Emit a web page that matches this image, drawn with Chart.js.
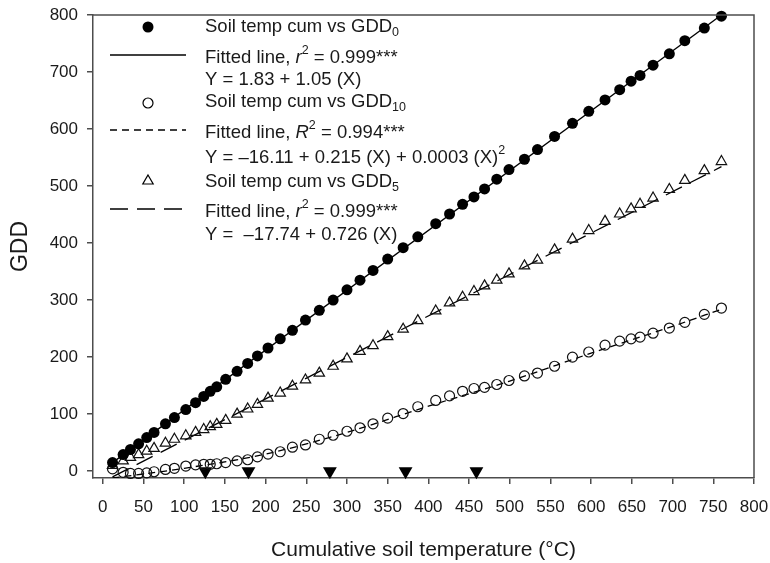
<!DOCTYPE html>
<html>
<head>
<meta charset="utf-8">
<script src="https://cdn.jsdelivr.net/npm/chart.js@4.4.0/dist/chart.umd.min.js"></script>
<style>
  body { margin: 0; background: #fff; }
  #wrap { width: 770px; height: 563px; }
</style>
</head>
<body>
<div id="wrap"><canvas id="gddChart"></canvas></div>
<script>
// cumulative soil temperature (x) shared by the three series
const soilTemp = [12, 25, 34, 44, 54, 63, 77, 88, 102, 114, 124, 132, 140, 151, 165, 178, 190, 203, 218, 233,
  249, 266, 283, 300, 316, 332, 350, 369, 387, 409, 426, 442, 456, 469, 484, 499, 518, 534, 555, 577,
  597, 617, 635, 649, 660, 676, 696, 715, 739, 760];
const gdd0 = [15, 29, 38, 48, 59, 68, 83, 94, 108, 120, 131, 140, 148, 161, 175, 189, 202, 216, 232, 247,
  265, 282, 300, 318, 335, 352, 372, 392, 411, 434, 451, 468, 481, 495, 512, 529, 547, 564, 587, 610,
  631, 651, 669, 684, 694, 712, 732, 755, 777, 798];
const gdd10 = [4, -2, -4, -4, -3, -1, 3, 5, 9, 11, 12, 12, 13, 15, 18, 20, 25, 30, 34, 42,
  46, 56, 63, 70, 76, 83, 93, 101, 113, 124, 132, 140, 145, 147, 152, 159, 167, 172, 184, 200,
  209, 221, 228, 232, 235, 242, 251, 261, 275, 286];
const gdd5 = [10, 18, 24, 29, 35, 40, 49, 56, 62, 68, 73, 78, 82, 89, 100, 109, 117, 128, 137, 149,
  160, 172, 184, 197, 210, 220, 236, 249, 264, 281, 295, 305, 315, 325, 335, 346, 360, 370, 388, 407,
  422, 438, 451, 460, 468, 479, 494, 510, 527, 543];

// fitted lines
const fit0X = [12, 760];
const fit0Y = [15, 800];
const fit10X = [12, 100, 200, 300, 400, 500, 600, 700, 760];
const fit10Y = [-12, 5, 30, 68, 114, 158, 207, 254, 284];
const fit5X = [12, 760];
const fit5Y = [-10, 534];

// black markers on the zero line
const markX = [126, 179, 279, 372, 459];
const markY = [0, 0, 0, 0, 0];

const xTicks = [0, 50, 100, 150, 200, 250, 300, 350, 400, 450, 500, 550, 600, 650, 700, 750, 800];
const yTicks = [0, 100, 200, 300, 400, 500, 600, 700, 800];

const FONT = '"Liberation Sans", Arial, Helvetica, sans-serif';
const AXIS = '#4d4d4d';
const INK = '#1a1a1a';

function pts(xs, ys) {
  return xs.map((x, i) => ({ x: x, y: ys[i] }));
}

// legend rows: text parts are [text, kind]
const legendRows = [
  { y: 27, mark: 'dot', text: [['Soil temp cum vs GDD'], ['0', 'sub']] },
  { y: 58, markY: 55, mark: 'solid', text: [['Fitted line, '], ['r', 'it'], ['2', 'sup'], [' = 0.999***']] },
  { y: 80, text: [['Y = 1.83 + 1.05 (X)']] },
  { y: 102, markY: 103, mark: 'ring', text: [['Soil temp cum vs GDD'], ['10', 'sub']] },
  { y: 133, markY: 130, mark: 'dash', text: [['Fitted line, '], ['R', 'it'], ['2', 'sup'], [' = 0.994***']] },
  { y: 158, text: [['Y = \u201316.11 + 0.215 (X) + 0.0003 (X)'], ['2', 'sup']] },
  { y: 182, markY: 181, mark: 'tri', text: [['Soil temp cum vs GDD'], ['5', 'sub']] },
  { y: 212, markY: 209, mark: 'longdash', text: [['Fitted line, '], ['r', 'it'], ['2', 'sup'], [' = 0.999***']] },
  { y: 235, text: [['Y =  \u201317.74 + 0.726 (X)']] }
];

function drawRich(ctx, x, y, parts) {
  parts.forEach(function (p) {
    let size = 18.5, dy = 0, style = '';
    if (p[1] === 'sub') { size = 12.5; dy = 6; }
    if (p[1] === 'sup') { size = 12.5; dy = -7; }
    if (p[1] === 'it') style = 'italic ';
    ctx.font = style + size + 'px ' + FONT;
    ctx.fillText(p[0], x, y + dy);
    x += ctx.measureText(p[0]).width;
  });
}

const legendPlugin = {
  id: 'gddLegend',
  afterDraw(chart) {
    const ctx = chart.ctx;
    const cx = 148, lx0 = 110, lx1 = 186, tx = 205;
    ctx.save();
    ctx.fillStyle = INK;
    ctx.strokeStyle = '#000';
    ctx.textBaseline = 'middle';
    ctx.textAlign = 'left';
    legendRows.forEach(function (r) {
      const my = r.markY !== undefined ? r.markY : r.y;
      ctx.setLineDash([]);
      if (r.mark === 'dot') {
        ctx.beginPath(); ctx.arc(cx, my, 5.5, 0, Math.PI * 2); ctx.fillStyle = '#000'; ctx.fill();
      } else if (r.mark === 'ring') {
        ctx.beginPath(); ctx.arc(cx, my, 5, 0, Math.PI * 2); ctx.lineWidth = 1.2; ctx.stroke();
      } else if (r.mark === 'tri') {
        const rr = 6;
        ctx.beginPath();
        ctx.moveTo(cx, my - rr);
        ctx.lineTo(cx + rr * 0.866, my + rr / 2);
        ctx.lineTo(cx - rr * 0.866, my + rr / 2);
        ctx.closePath(); ctx.lineWidth = 1.2; ctx.stroke();
      } else if (r.mark) {
        if (r.mark === 'dash') ctx.setLineDash([7, 5]);
        if (r.mark === 'longdash') ctx.setLineDash([18, 9]);
        ctx.beginPath(); ctx.moveTo(lx0, my); ctx.lineTo(lx1, my); ctx.lineWidth = 1.3; ctx.stroke();
      }
      ctx.setLineDash([]);
      ctx.fillStyle = INK;
      drawRich(ctx, tx, r.y, r.text);
    });
    ctx.restore();
  }
};

// top and right sides of the frame
const framePlugin = {
  id: 'frame',
  afterDraw(chart) {
    const a = chart.chartArea, ctx = chart.ctx;
    ctx.save();
    ctx.strokeStyle = AXIS;
    ctx.lineWidth = 1.5;
    ctx.beginPath();
    ctx.moveTo(a.left, a.top);
    ctx.lineTo(a.right, a.top);
    ctx.lineTo(a.right, a.bottom);
    ctx.stroke();
    ctx.restore();
  }
};

const ctx = document.getElementById('gddChart').getContext('2d');
new Chart(ctx, {
  type: 'scatter',
  data: {
    datasets: [
      {
        label: 'Soil temp cum vs GDD0',
        data: pts(soilTemp, gdd0),
        pointStyle: 'circle', pointRadius: 5.5,
        pointBackgroundColor: '#000', pointBorderColor: '#000', pointBorderWidth: 0,
        clip: false
      },
      {
        label: 'Soil temp cum vs GDD10',
        data: pts(soilTemp, gdd10),
        pointStyle: 'circle', pointRadius: 5,
        pointBackgroundColor: 'rgba(0,0,0,0)', pointBorderColor: '#111', pointBorderWidth: 1.2,
        clip: false
      },
      {
        label: 'Soil temp cum vs GDD5',
        data: pts(soilTemp, gdd5),
        pointStyle: 'triangle', pointRadius: 6,
        pointBackgroundColor: 'rgba(0,0,0,0)', pointBorderColor: '#111', pointBorderWidth: 1.2,
        clip: false
      },
      {
        label: 'markers',
        data: pts(markX, markY),
        pointStyle: 'triangle', pointRadius: 8, pointRotation: 180,
        pointBackgroundColor: '#000', pointBorderColor: '#000', pointBorderWidth: 0,
        clip: false
      },
      {
        label: 'Fitted GDD0',
        data: pts(fit0X, fit0Y),
        showLine: true, pointRadius: 0, borderColor: '#000', borderWidth: 1.3
      },
      {
        label: 'Fitted GDD10',
        data: pts(fit10X, fit10Y),
        showLine: true, pointRadius: 0, borderColor: '#000', borderWidth: 1.3,
        borderDash: [7, 5], tension: 0.4, cubicInterpolationMode: 'monotone'
      },
      {
        label: 'Fitted GDD5',
        data: pts(fit5X, fit5Y),
        showLine: true, pointRadius: 0, borderColor: '#000', borderWidth: 1.3,
        borderDash: [18, 9]
      }
    ]
  },
  options: {
    responsive: true,
    maintainAspectRatio: false,
    animation: false,
    events: [],
    layout: { padding: { top: 15, right: 16, left: 0, bottom: 0 } },
    plugins: {
      legend: { display: false },
      tooltip: { enabled: false }
    },
    scales: {
      x: {
        type: 'linear',
        min: -12,
        max: 800,
        afterBuildTicks: function (s) { s.ticks = xTicks.map(v => ({ value: v })); },
        afterFit: function (s) { s.height = 85; s.paddingLeft = 0; s.paddingRight = 0; },
        ticks: { font: { size: 17, family: FONT }, color: INK, padding: 13, maxRotation: 0, autoSkip: false },
        grid: { drawOnChartArea: false, drawTicks: true, tickLength: 6, color: AXIS, lineWidth: 1.5 },
        border: { display: true, color: AXIS, width: 1.5 },
        title: {
          display: true,
          text: 'Cumulative soil temperature (\u00B0C)',
          font: { size: 21, family: FONT },
          color: INK,
          padding: { top: 0, bottom: 0 }
        }
      },
      y: {
        type: 'linear',
        min: -12,
        max: 800,
        afterBuildTicks: function (s) { s.ticks = yTicks.map(v => ({ value: v })); },
        afterFit: function (s) { s.width = 93; s.paddingTop = 0; s.paddingBottom = 0; },
        ticks: { font: { size: 17, family: FONT }, color: INK, padding: 9, autoSkip: false },
        grid: { drawOnChartArea: false, drawTicks: true, tickLength: 6, color: AXIS, lineWidth: 1.5 },
        border: { display: true, color: AXIS, width: 1.5 },
        title: {
          display: true,
          text: 'GDD',
          font: { size: 23, family: FONT },
          color: INK,
          padding: { top: 7, bottom: 0 }
        }
      }
    }
  },
  plugins: [legendPlugin, framePlugin]
});
</script>
</body>
</html>
